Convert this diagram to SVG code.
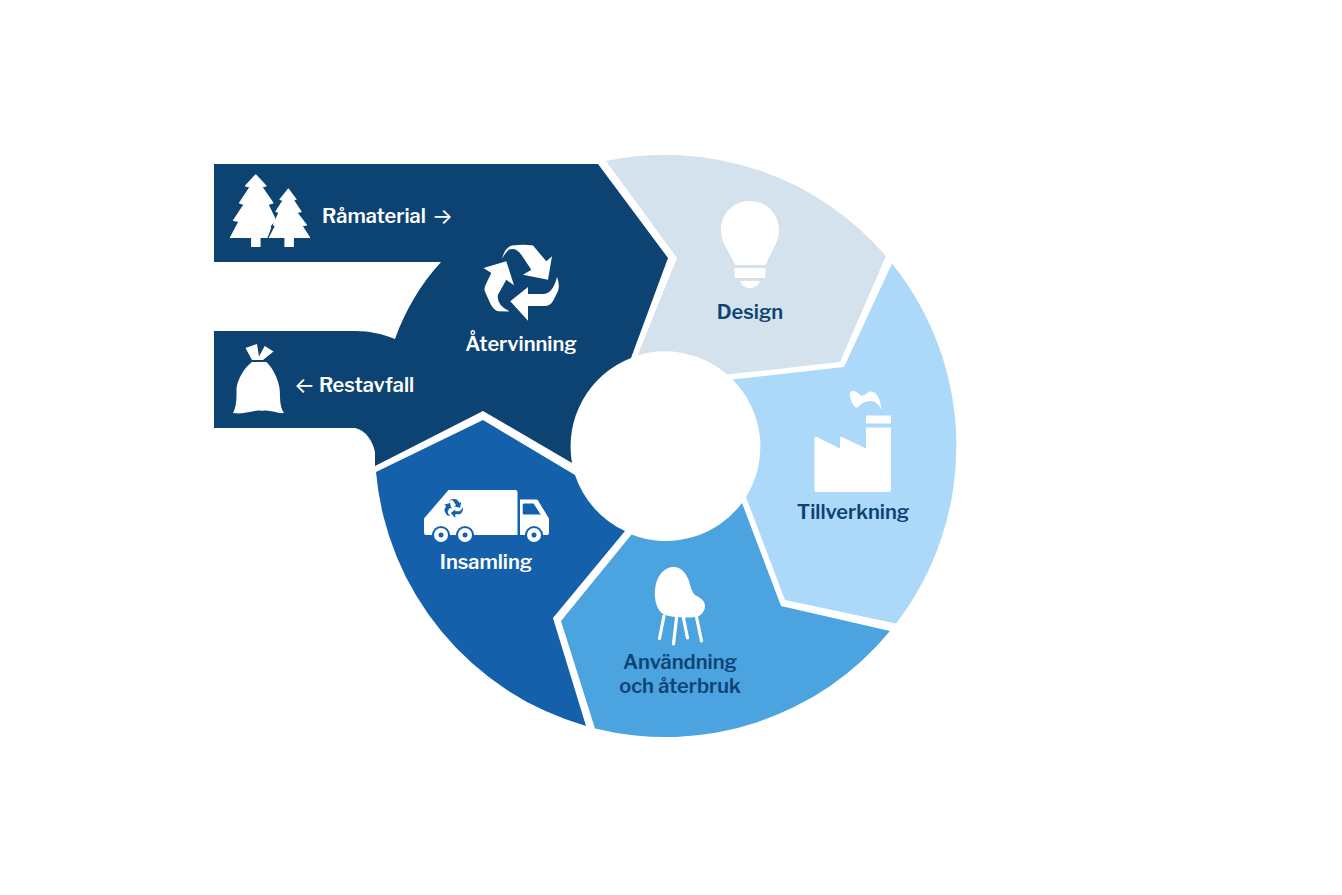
<svg xmlns="http://www.w3.org/2000/svg" width="1342" height="895" viewBox="0 0 1342 895">
<style>
.l{font-family:"Libre Franklin","Inter","Liberation Sans",sans-serif;font-size:20px;font-weight:600;text-anchor:middle}
.s{text-anchor:start}
.w{fill:#fff}.d{fill:#0d4372}
.ar{font-family:"Inter","Liberation Sans",sans-serif;font-size:22px;font-weight:400}
.ic{fill:#fff}
.rd{stroke:#fff;stroke-width:1.2;stroke-linejoin:round}
.leg{stroke:#fff;stroke-width:3.2;stroke-linecap:round;fill:none}
</style>
<defs>
<path id="recycle" d="M502 259Q505 247 512 245.5Q524 244 533 245.5L546.3 261.3L552 256.3L548 279.7L523 274.7L531.3 269.7L521.3 254.7Q516 247 509 249.5Q505 253 502 259ZM483.5 268L506.3 261.3L514 285.3L506.3 279.7L498 294.7Q496 305 509.7 311.5L498 311.3Q494 310 491 305L484.7 291Q484 288 486 284L491.3 273ZM510.3 301.3L528 287V294H544Q553 293 557 277Q560 285 558 291L553 301Q551 305 546 306H528V320.7Z"/>
</defs>
<rect width="1342" height="895" fill="#fff"/>
<g id="segment-design">
<path d="M606 161A291 291 0 0 1 886 256L840 362L727.5 374.5A95 95 0 0 0 637.5 355.5L677 258Z" fill="#d3e2ec"/>
<path class="ic" d="M750 201C767 201 779 214 779 230C779 244 771 250 766 265L735 265C729 250 721 244 721 230C721 214 733 201 750 201ZM734.5 268H765.5V278H734.5ZM740 281H760C758 286 754 288 750 288C746 288 742 286 740 281Z"/>
<text class="l d" x="750" y="319">Design</text>
</g>
<g id="segment-tillverkning">
<path d="M892 263.5A291 291 0 0 1 896 623.5L785 600L746 497A95 95 0 0 0 732.5 379.5L844 367Z" fill="#acd9f9"/>
<path class="ic" d="M866 415.5H891V423.5H866ZM866 427.5H891V490Q891 492 889 492H816Q814.5 492 814.5 490V438Q814.5 436 817 437L840 448.5V438Q840 436 842 437L866 448.5ZM850 392.5C853 389 857 392 860 395C864 398 867 391 871 391.5C877 392 880 398 881.5 410C879 404 875 401 870 401C864 401 860 405 857 408C853 407 849 398 850 392.5Z"/>
<text class="l d" x="853" y="519">Tillverkning</text>
</g>
<g id="segment-anvandning">
<path d="M890 631A291 291 0 0 1 595 728.5L561 621L631.5 534.5A95 95 0 0 0 742 503L781 606Z" fill="#4ba3df"/>
<path class="ic" d="M672 567C680 566 686 572 689 581C691 588 692 592 695 595C701 598 705 601 705 606C705 612 700 617 695 617C685 618 672 618 663 614C657 610 654 600 655 590C656 577 663 568 672 567Z"/>
<path class="leg" d="M664 616L659.5 638.5M676.5 618L673.5 644M683.5 618L687.5 638M696.5 617L701.5 641"/>
<text class="l d" x="680" y="669">Användning</text>
<text class="l d" x="680" y="693">och återbruk</text>
</g>
<g id="segment-insamling">
<path d="M586 726A291 291 0 0 1 376 472L483 420L575 475A95 95 0 0 0 625 531L553 618Z" fill="#1460aa"/>
<path class="ic" d="M448.5 490H515.5Q517.5 490 517.5 492V535H426Q424 535 424 533V518.5ZM520 499.5H536Q537.5 499.5 538 500.5L549 518.5V533Q549 535 547 535H520Z"/>
<path d="M524 503.5H533.5L540.7 514.5H524Q522.7 514.5 522.7 513V505Q522.7 503.5 524 503.5Z" fill="#1460aa"/>
<g fill="#1460aa"><circle cx="441" cy="535" r="9"/><circle cx="465" cy="535" r="9"/><circle cx="534" cy="535" r="9"/></g>
<g class="ic"><circle cx="441" cy="535" r="7"/><circle cx="465" cy="535" r="7"/><circle cx="534" cy="535" r="7"/></g>
<g fill="#1460aa"><circle cx="441" cy="535" r="2.5"/><circle cx="465" cy="535" r="2.5"/><circle cx="534" cy="535" r="2.5"/>
<use href="#recycle" transform="translate(453.5 508.5) scale(.25) translate(-521 -283)"/></g>
<text class="l w" x="486" y="569">Insamling</text>
</g>
<g id="segment-atervinning">
<path d="M214 164H598L668 258L631 358A95 95 0 0 0 572 463L483 411L375 466V452C373 442 366 430 355 428H214V331H355C370 331 383 334 395 339C405 311 420 285 441 262H214Z" fill="#0d4372"/>
<use href="#recycle" class="ic"/>
<text class="l w" x="521" y="351">Återvinning</text>
<text class="l w s" x="322" y="223">Råmaterial</text>
<text class="ar w" x="432" y="224">→</text>
<text class="ar w" x="294" y="393">←</text>
<text class="l w s" x="319" y="392">Restavfall</text>
<path class="ic rd" d="M255.7 175L245.5 186L250 187L239.5 203L244 204.5L233.5 220.5L239 221.5L230.5 237.5H251.7V246.5H260V237.5H267L270.5 228L270 226L275.5 220L268 204.5L273 203L262 187L266 186Z"/>
<path class="ic rd" d="M288.3 189L280 199.5L283 200.5L276 211.5L279 212.5L273.5 225L275.5 226L269.5 237.5H285V246.5H293.3V237.5H309.5L302 225.7L306.5 225L296.7 212.3L301 211.7L293.3 200L296 199.3Z"/>
<path class="ic" d="M245.5 348L257 344L259 356.5L264.7 346L273.5 351.5L263 360H252ZM252 362H266.5C272 367 278 378 279.5 388C280.5 396 279 406 284 413C277 414 270 409 262 411C255 409 246 415 233 413C237 406 236.5 396 236.5 388C238 378 245 367 252 362Z"/>
</g>
<g id="connectors"/>
</svg>
